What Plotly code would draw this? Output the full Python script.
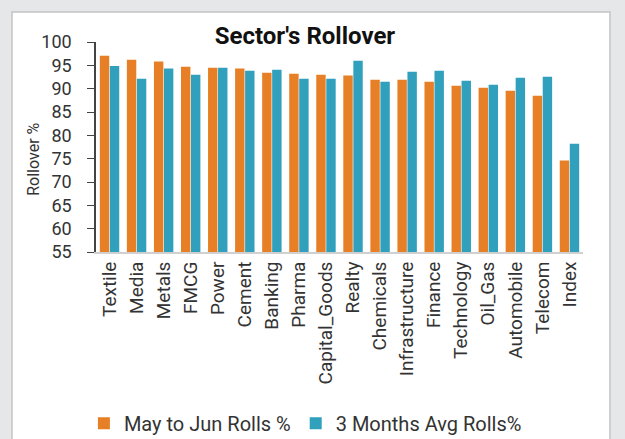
import plotly.graph_objects as go

categories = ["Textile", "Media", "Metals", "FMCG", "Power", "Cement", "Banking", "Pharma",
              "Capital_Goods", "Realty", "Chemicals", "Infrastructure", "Finance", "Technology",
              "Oil_Gas", "Automobile", "Telecom", "Index"]
may_to_jun = [97.05, 96.2, 95.8, 94.7, 94.5, 94.3, 93.4, 93.2, 93.0, 92.8, 91.9, 91.9, 91.5,
              90.65, 90.2, 89.55, 88.5, 74.6]
three_month_avg = [94.85, 92.15, 94.3, 93.0, 94.5, 93.85, 94.05, 92.15, 92.15, 96.0, 91.5,
                   93.65, 93.85, 91.7, 90.85, 92.35, 92.55, 78.2]

FONT = "Roboto"

fig = go.Figure()
fig.add_trace(go.Bar(x=categories, y=may_to_jun, name="May to Jun Rolls %",
                     marker=dict(color="#e77f26", line=dict(width=0))))
fig.add_trace(go.Bar(x=categories, y=three_month_avg, name="3 Months Avg Rolls%",
                     marker=dict(color="#30a0bd", line=dict(width=0))))

# white card
fig.add_shape(type="rect", xref="paper", yref="paper", x0=-0.1725, x1=1.0554, y0=-0.95, y1=1.143,
              fillcolor="white", line=dict(color="#c4c4c4", width=1.5), layer="below")

# y-axis title
fig.add_annotation(text="Rollover %", xref="paper", yref="paper", x=-0.129, y=0.44,
                   xanchor="center", yanchor="middle", textangle=-90, showarrow=False,
                   font=dict(family=FONT, size=16, color="#333333"))

fig.update_layout(
    width=625, height=439,
    margin=dict(l=96, r=42, t=42, b=187, autoexpand=False),
    paper_bgcolor="#e6e7e9", plot_bgcolor="white",
    barmode="group", bargap=0.26, bargroupgap=0.06,
    title=dict(text="<b>Sector's Rollover</b>", x=0.429, xanchor="center", xref="paper",
               yref="container", y=0.92, yanchor="middle",
               font=dict(family=FONT, size=24, color="#111111")),
    font=dict(family=FONT, color="#333333"),
    showlegend=True,
    legend=dict(orientation="h", x=0.43, xanchor="center", yref="container", y=0.036,
                yanchor="middle",
                font=dict(family=FONT, size=20, color="#333333"), bgcolor="rgba(0,0,0,0)",
                tracegroupgap=0),
    xaxis=dict(tickangle=-90, tickfont=dict(family=FONT, size=19, color="#333333"),
               showline=True, linecolor="#d0d0d0", linewidth=2, ticks="", showgrid=False,
               automargin=False),
    yaxis=dict(range=[55, 100], dtick=5, tickfont=dict(family=FONT, size=18, color="#333333"),
               showline=True, linecolor="#444444", linewidth=1.5, ticks="outside", ticklen=7,
               tickcolor="#444444", showgrid=False, zeroline=False, automargin=False,
               ticklabelstandoff=12),
)

fig.write_html("out.html", config={"displayModeBar": False},
               post_script="document.body.style.margin='0';document.body.style.overflow='hidden';")
